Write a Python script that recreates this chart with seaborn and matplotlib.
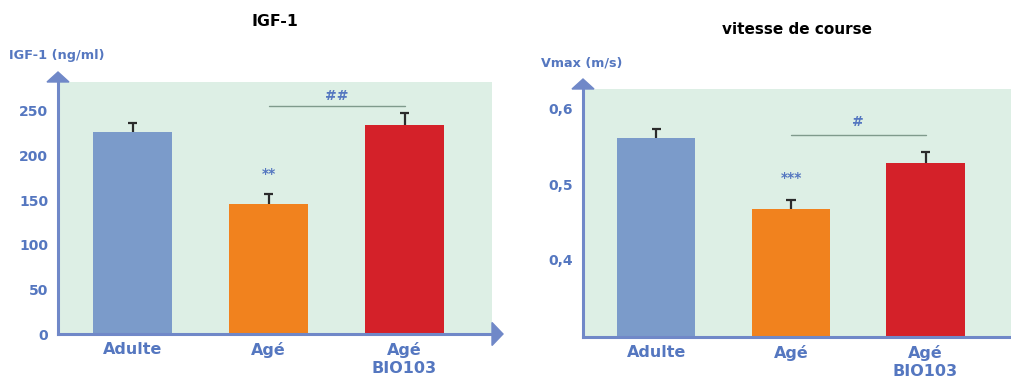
import matplotlib
matplotlib.use("Agg")
import matplotlib.pyplot as plt
from matplotlib.patches import Polygon
import seaborn as sns

groups = ["Adulte", "Agé", "Agé\nBIO103"]
colors = ["#7b9bca", "#f1821e", "#d42129"]

igf = [226, 146, 234]
igf_err = [10, 11, 14]

vmax = [0.561, 0.467, 0.528]
vmax_err = [0.012, 0.012, 0.015]

axis_col = "#7088c8"
text_col = "#5577c0"
bg_col = "#ddefe5"

sns.set_style("white")
plt.rcParams['font.family'] = ['DejaVu Sans']
plt.rcParams['text.color'] = 'black'

fig = plt.figure(figsize=(10.12, 3.78), dpi=100)


def setup(ax, values, errs, w_px, h_px):
    ax.set_facecolor(bg_col)
    sns.barplot(x=groups, y=values, hue=groups, palette=colors, width=0.58,
                saturation=1, legend=False, ax=ax, zorder=2, linewidth=0)
    # upper error bars only ("T" shape)
    xs = list(range(len(values)))
    tops = [v + e for v, e in zip(values, errs)]
    ax.vlines(xs, values, tops, color="#2b2b2b", lw=1.6, zorder=3)
    ax.hlines(tops, [x - 0.034 for x in xs], [x + 0.034 for x in xs],
              color="#2b2b2b", lw=1.6, zorder=3)
    for s in ["top", "right"]:
        ax.spines[s].set_visible(False)
    for s in ["left", "bottom"]:
        ax.spines[s].set_color(axis_col)
        ax.spines[s].set_linewidth(2.2)
    ax.tick_params(axis="y", colors=axis_col, length=5, width=1.5, labelsize=10,
                   labelcolor=text_col, pad=2)
    ax.tick_params(axis="x", length=0, labelsize=11.5, labelcolor=text_col, pad=6)
    for lab in ax.get_xticklabels() + ax.get_yticklabels():
        lab.set_fontweight("bold")
    ax.set_xlabel("")
    ax.set_ylabel("")
    # arrow heads
    ax.add_patch(Polygon([(-11 / w_px, 1.0), (11 / w_px, 1.0), (0, 1 + 10 / h_px)],
                         closed=True, transform=ax.transAxes, clip_on=False,
                         color=axis_col, zorder=5))
    ax.add_patch(Polygon([(1.0, -11.5 / h_px), (1.0, 11.5 / h_px), (1 + 11 / w_px, 0)],
                         closed=True, transform=ax.transAxes, clip_on=False,
                         color=axis_col, zorder=5))


# left panel
ax1 = fig.add_axes([58 / 1012, 44 / 378, 434 / 1012, 252 / 378])
setup(ax1, igf, igf_err, 434, 252)
ax1.set_xlim(-0.548, 2.643)
ax1.set_ylim(0, 282.5)
ax1.set_yticks([0, 50, 100, 150, 200, 250])
ax1.plot([1, 2], [255.6, 255.6], color="#7f9a8c", lw=1, zorder=3)
ax1.text(1.5, 267, "##", ha="center", va="center", color=text_col, fontsize=10, fontweight="bold")
ax1.text(1, 179, "**", ha="center", va="center", color=text_col, fontsize=10, fontweight="bold")
fig.text(275 / 1012, 1 - 22 / 378, "IGF-1", ha="center", va="center", fontsize=11.3, fontweight="bold")
fig.text(9 / 1012, 1 - 56 / 378, "IGF-1 (ng/ml)", ha="left", va="center", fontsize=9.3,
         fontweight="bold", color=text_col)

# right panel
ax2 = fig.add_axes([583 / 1012, 41 / 378, 429 / 1012, 248 / 378])
setup(ax2, vmax, vmax_err, 429, 248)
ax2.set_xlim(-0.546, 2.643)
ax2.set_ylim(0.298, 0.626)
ax2.set_yticks([0.4, 0.5, 0.6])
ax2.set_yticklabels(["0,4", "0,5", "0,6"], fontweight="bold")
ax2.plot([1, 2], [0.5656, 0.5656], color="#7f9a8c", lw=1, zorder=3)
ax2.text(1.5, 0.583, "#", ha="center", va="center", color=text_col, fontsize=10, fontweight="bold")
ax2.text(1, 0.508, "***", ha="center", va="center", color=text_col, fontsize=10, fontweight="bold")
fig.text(797 / 1012, 1 - 30 / 378, "vitesse de course", ha="center", va="center", fontsize=11,
         fontweight="bold")
fig.text(541 / 1012, 1 - 63 / 378, "Vmax (m/s)", ha="left", va="center", fontsize=9.2,
         fontweight="bold", color=text_col)

fig.savefig("out.png", dpi=100)
